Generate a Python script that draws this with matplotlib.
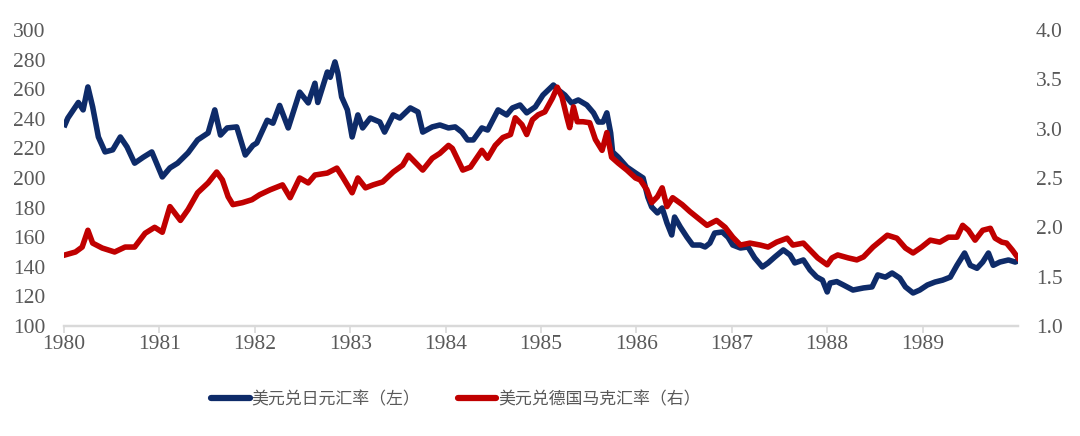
import matplotlib.pyplot as plt

# USD/JPY (left axis), decimal years
jpy_t = [1980.01, 1980.04, 1980.15, 1980.20, 1980.25, 1980.30, 1980.36, 1980.43, 1980.51, 1980.59,
         1980.66, 1980.74, 1980.83, 1980.92, 1981.03, 1981.11, 1981.19, 1981.30, 1981.40, 1981.51,
         1981.58, 1981.64, 1981.71, 1981.81, 1981.90, 1981.98, 1982.02, 1982.13, 1982.19, 1982.26,
         1982.35, 1982.47, 1982.56, 1982.63, 1982.66, 1982.76, 1982.79, 1982.84, 1982.87, 1982.91,
         1982.97, 1983.02, 1983.08, 1983.13, 1983.21, 1983.31, 1983.36, 1983.45, 1983.52, 1983.63,
         1983.71, 1983.76, 1983.86, 1983.94, 1984.03, 1984.10, 1984.17, 1984.23, 1984.29, 1984.38,
         1984.44, 1984.55, 1984.64, 1984.70, 1984.78, 1984.85, 1984.94, 1985.02, 1985.13, 1985.18,
         1985.25, 1985.32, 1985.39, 1985.48, 1985.55, 1985.60, 1985.65, 1985.69, 1985.73, 1985.75,
         1985.81, 1985.90, 1985.99, 1986.07, 1986.12, 1986.16, 1986.22, 1986.27, 1986.32, 1986.37,
         1986.40, 1986.46, 1986.53, 1986.59, 1986.67, 1986.72, 1986.77, 1986.82, 1986.90, 1986.96,
         1987.01, 1987.09, 1987.17, 1987.24, 1987.32, 1987.38, 1987.45, 1987.54, 1987.61, 1987.66,
         1987.75, 1987.82, 1987.89, 1987.95, 1988.00, 1988.03, 1988.10, 1988.17, 1988.27, 1988.38,
         1988.47, 1988.53, 1988.61, 1988.68, 1988.76, 1988.82, 1988.90, 1988.97, 1989.05, 1989.13,
         1989.21, 1989.29, 1989.36, 1989.44, 1989.50, 1989.57, 1989.63, 1989.69, 1989.74, 1989.81,
         1989.90, 1989.97, 1990.00]
jpy = [236.0, 240.5, 251.0, 246.0, 261.5, 248.0, 227.7, 217.6, 219.0, 227.7,
       221.0, 210.0, 214.0, 217.6, 200.7, 206.8, 210.0, 217.0, 225.7, 230.4,
       246.0, 229.0, 233.8, 234.5, 215.5, 222.0, 223.6, 239.0, 237.0, 249.0,
       233.8, 258.0, 250.7, 264.0, 251.0, 271.6, 268.0, 278.4, 271.0, 254.7,
       246.0, 227.7, 242.6, 233.8, 240.5, 237.8, 231.0, 242.6, 240.5, 247.3,
       244.6, 231.0, 234.5, 235.8, 233.8, 234.5, 231.0, 225.7, 225.7, 233.8,
       232.4, 246.0, 242.6, 247.3, 249.3, 244.0, 248.0, 256.0, 262.8, 259.5,
       256.0, 250.7, 252.7, 249.3, 244.0, 237.8, 237.8, 244.0, 230.4, 217.6,
       214.0, 207.4, 203.4, 200.0, 187.0, 180.4, 176.4, 179.7, 169.6, 161.5,
       173.6, 166.9, 160.0, 154.7, 154.7, 153.4, 156.0, 162.8, 163.5, 160.0,
       154.7, 152.7, 153.4, 146.0, 139.9, 142.6, 146.6, 151.4, 148.0, 142.6,
       144.6, 137.8, 133.1, 131.0, 123.0, 129.0, 130.0, 127.7, 124.3, 125.7,
       126.4, 134.5, 133.0, 135.8, 132.4, 126.4, 122.3, 124.3, 127.7, 129.7,
       131.0, 133.0, 141.0, 149.3, 141.0, 139.0, 143.2, 149.3, 141.0, 143.2,
       144.6, 143.2, 144.0]

# USD/DEM (right axis)
dem_t = [1980.01, 1980.12, 1980.19, 1980.25, 1980.30, 1980.40, 1980.53, 1980.64, 1980.74, 1980.85,
         1980.95, 1981.03, 1981.11, 1981.22, 1981.30, 1981.40, 1981.51, 1981.60, 1981.66, 1981.72,
         1981.77, 1981.87, 1981.97, 1982.05, 1982.16, 1982.29, 1982.37, 1982.47, 1982.56, 1982.63,
         1982.76, 1982.86, 1982.92, 1983.02, 1983.08, 1983.16, 1983.24, 1983.34, 1983.45, 1983.55,
         1983.61, 1983.68, 1983.76, 1983.86, 1983.94, 1984.03, 1984.07, 1984.13, 1984.18, 1984.26,
         1984.33, 1984.38, 1984.44, 1984.52, 1984.60, 1984.68, 1984.73, 1984.80, 1984.85, 1984.91,
         1984.97, 1985.04, 1985.12, 1985.17, 1985.22, 1985.27, 1985.30, 1985.34, 1985.38, 1985.44,
         1985.51, 1985.57, 1985.64, 1985.69, 1985.74, 1985.81, 1985.90, 1985.99, 1986.04, 1986.11,
         1986.16, 1986.22, 1986.27, 1986.32, 1986.38, 1986.48, 1986.56, 1986.65, 1986.74, 1986.84,
         1986.93, 1987.01, 1987.09, 1987.19, 1987.30, 1987.38, 1987.47, 1987.58, 1987.64, 1987.75,
         1987.82, 1987.90, 1988.00, 1988.05, 1988.11, 1988.22, 1988.31, 1988.38, 1988.48, 1988.63,
         1988.73, 1988.82, 1988.90, 1988.99, 1989.08, 1989.18, 1989.27, 1989.36, 1989.42, 1989.48,
         1989.55, 1989.63, 1989.71, 1989.76, 1989.83, 1989.88, 1989.94, 1990.00]
dem = [1.72, 1.75, 1.80, 1.97, 1.84, 1.79, 1.75, 1.80, 1.80, 1.94,
       2.00, 1.95, 2.21, 2.07, 2.18, 2.35, 2.45, 2.56, 2.48, 2.31,
       2.23, 2.25, 2.28, 2.33, 2.38, 2.43, 2.30, 2.50, 2.45, 2.53,
       2.55, 2.60, 2.51, 2.35, 2.50, 2.40, 2.43, 2.46, 2.56, 2.63,
       2.73, 2.66, 2.58, 2.70, 2.75, 2.83, 2.80, 2.68, 2.58, 2.61,
       2.71, 2.78, 2.70, 2.83, 2.91, 2.94, 3.11, 3.04, 2.94, 3.09,
       3.14, 3.17, 3.31, 3.42, 3.32, 3.12, 3.01, 3.22, 3.07, 3.07,
       3.06, 2.89, 2.78, 2.96, 2.71, 2.65, 2.58, 2.50, 2.48, 2.38,
       2.25, 2.31, 2.40, 2.21, 2.30, 2.23, 2.16, 2.09, 2.02, 2.07,
       2.00, 1.90, 1.82, 1.84, 1.82, 1.80, 1.85, 1.89, 1.82, 1.84,
       1.77, 1.69, 1.62, 1.69, 1.72, 1.69, 1.67, 1.70, 1.80, 1.92,
       1.89, 1.79, 1.74, 1.80, 1.87, 1.85, 1.90, 1.90, 2.02, 1.97,
       1.87, 1.97, 1.99, 1.89, 1.85, 1.84, 1.77, 1.69]

years = list(range(1980, 1990))
left_ticks = list(range(100, 301, 20))
right_ticks = [1.0, 1.5, 2.0, 2.5, 3.0, 3.5, 4.0]

blue = '#0e2b69'
red = '#c00000'
gray = '#595959'
serif = 'Liberation Serif'

fig = plt.figure(figsize=(10.8, 4.36), dpi=100)
ax = fig.add_axes([0.0593, 0.2523, 0.8833, 0.679])
ax2 = ax.twinx()

ax.plot(jpy_t, jpy, color=blue, lw=4, solid_joinstyle='round', label='美元兑日元汇率（左）')
ax2.plot(dem_t, dem, color=red, lw=4, solid_joinstyle='round', label='美元兑德国马克汇率（右）')

ax.set_xlim(1980, 1990)
ax.set_ylim(100, 300)
ax2.set_ylim(1.0, 4.0)
ax.set_xticks(years)
ax.set_xticklabels([str(y) for y in years])
ax.set_yticks(left_ticks)
ax2.set_yticks(right_ticks)
ax2.set_yticklabels([f'{v:.1f}' for v in right_ticks])

for a in (ax, ax2):
    for s in ('top', 'left', 'right'):
        a.spines[s].set_visible(False)
    a.spines['bottom'].set_color('#d9d9d9')
    a.spines['bottom'].set_linewidth(1.6)
ax.tick_params(axis='x', length=5, width=1.2, color='#d9d9d9', labelsize=15.5,
               labelcolor=gray, pad=1.5)
ax.tick_params(axis='y', length=0, labelsize=15.5, labelcolor=gray, pad=13.5)
ax2.tick_params(axis='y', length=0, labelsize=15.5, labelcolor=gray, pad=13)
for lab in ax.get_xticklabels() + ax.get_yticklabels() + ax2.get_yticklabels():
    lab.set_fontfamily(serif)

h1, l1 = ax.get_legend_handles_labels()
h2, l2 = ax2.get_legend_handles_labels()
leg = fig.legend(h1 + h2, l1 + l2, loc='center', bbox_to_anchor=(0.422, 0.085), ncol=2,
                 frameon=False, handlelength=2.3, handletextpad=0.1, columnspacing=2.2,
                 prop={'family': ['Noto Sans CJK SC', 'DejaVu Sans'], 'size': 12.2})
for t in leg.get_texts():
    t.set_color(gray)
for ln in leg.get_lines():
    ln.set_linewidth(4.5)
    ln.set_solid_capstyle('round')

fig.savefig('out.png', dpi=100)
